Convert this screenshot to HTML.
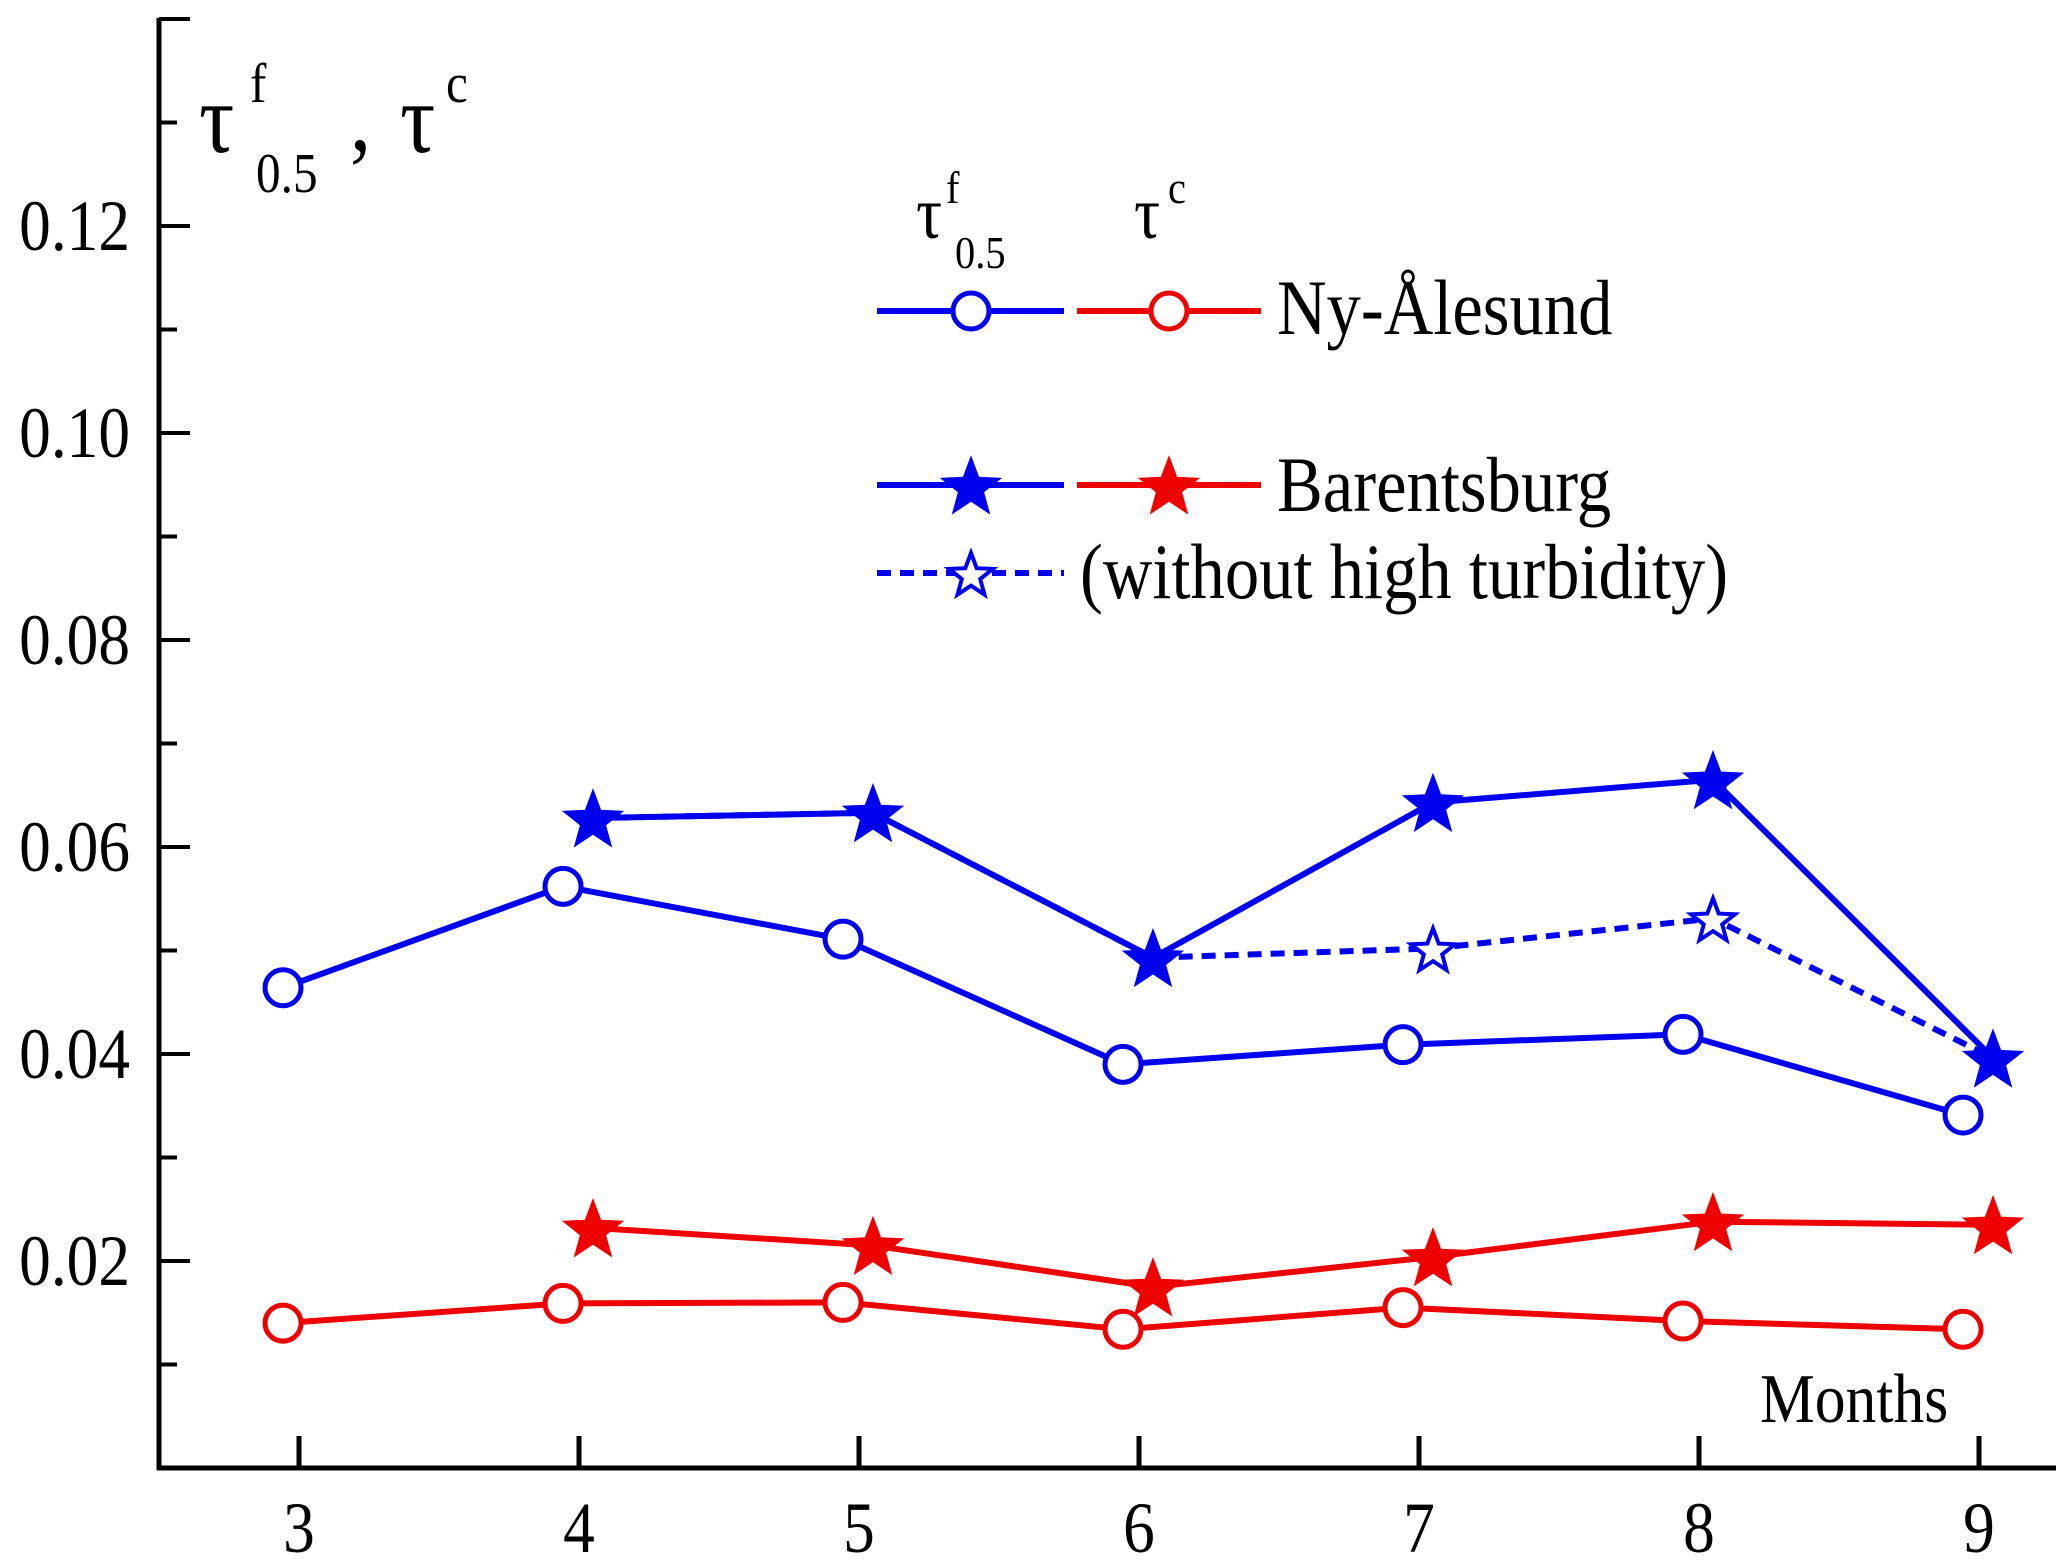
<!DOCTYPE html>
<html><head><meta charset="utf-8"><style>
html,body{margin:0;padding:0;background:#fff;}
svg{display:block;font-family:"Liberation Serif",serif;}
</style></head><body>
<svg id="chart" width="2067" height="1560" viewBox="0 0 2067 1560" xmlns="http://www.w3.org/2000/svg">
<rect width="2067" height="1560" fill="#fff"/>
<g id="axes"></g>
<g id="series"></g>
<g fill="#000">
<text transform="translate(199,152) scale(0.88,1)" font-size="100">τ</text>
<text transform="translate(250,102) scale(0.88,1)" font-size="56">f</text>
<text transform="translate(256,192) scale(0.88,1)" font-size="56">0.5</text>
<text transform="translate(350,150) scale(0.88,1)" font-size="96">,</text>
<text transform="translate(400,152) scale(0.88,1)" font-size="100">τ</text>
<text transform="translate(446,102) scale(0.88,1)" font-size="56">c</text>
</g>
<g>
<text transform="translate(916,238) scale(0.88,1)" font-size="74">τ</text>
<text transform="translate(946,203) scale(0.88,1)" font-size="46">f</text>
<text transform="translate(955,268) scale(0.88,1)" font-size="46">0.5</text>
<text transform="translate(1134,238) scale(0.88,1)" font-size="74">τ</text>
<text transform="translate(1168,203) scale(0.88,1)" font-size="46">c</text>
<g>
<line x1="877" y1="311" x2="1064" y2="311" stroke="#0000ee" stroke-width="6"/>
<circle cx="971" cy="311" r="18" fill="#fff" stroke="#0000ee" stroke-width="5"/>
<line x1="1077" y1="311" x2="1261" y2="311" stroke="#ee0000" stroke-width="6"/>
<circle cx="1169" cy="311" r="18" fill="#fff" stroke="#ee0000" stroke-width="5"/>
<text transform="translate(1277,334) scale(0.88,1)" font-size="78">Ny-Ålesund</text>
</g>
<g id="legend-stars">
<line x1="877" y1="485" x2="1064" y2="485" stroke="#0000ee" stroke-width="6"/>
<line x1="1077" y1="485" x2="1261" y2="485" stroke="#ee0000" stroke-width="6"/>
<text transform="translate(1277,511) scale(0.88,1)" font-size="78">Barentsburg</text>
<line x1="877" y1="573" x2="1064" y2="573" stroke="#0000ee" stroke-width="6" stroke-dasharray="14 9"/>
<text transform="translate(1080,598) scale(0.88,1)" font-size="78">(without high turbidity)</text>
</g>
</g>
<text transform="translate(1760,1422) scale(0.88,1)" font-size="70">Months</text>
</svg>
<script>
const months = [3,4,5,6,7,8,9];
const yTicks = [0.02,0.04,0.06,0.08,0.10,0.12];
const yTickLabels = ["0.02","0.04","0.06","0.08","0.10","0.12"];
const nyFine = [0.0464,0.0562,0.0511,0.0390,0.0409,0.0419,0.0341];
const nyCoarse = [0.0140,0.0159,0.0160,0.0134,0.0155,0.0142,0.0134];
const barMonths = [4,5,6,7,8,9];
const barFine = [0.0628,0.0633,0.0493,0.0643,0.0665,0.0396];
const barFineNoTurb = [0.0628,0.0633,0.0493,0.0502,0.0531,0.0396];
const barCoarse = [0.0232,0.0215,0.0175,0.0204,0.0238,0.0235];

const NS="http://www.w3.org/2000/svg";
const X0=159, Y0=1468;
function xs(m){return 299+(m-3)*280;}
function ys(v){return Y0-v/0.02*207;}
function mk(tag,attrs,parent){const e=document.createElementNS(NS,tag);for(const k in attrs)e.setAttribute(k,attrs[k]);parent.appendChild(e);return e;}
function starPts(cx,cy,R){const r=R*0.42;let p=[];for(let i=0;i<10;i++){const a=-Math.PI/2+i*Math.PI/5;const rr=i%2?r:R;p.push((cx+rr*Math.cos(a)).toFixed(1)+","+(cy+rr*Math.sin(a)).toFixed(1));}return p.join(" ");}

const axes=document.getElementById('axes');
let ax=mk('line',{x1:X0,y1:18,x2:X0,y2:Y0+2,stroke:'#000','stroke-width':5},axes);


ax=mk('line',{x1:X0-2,y1:Y0,x2:2056,y2:Y0,stroke:'#000','stroke-width':5},axes);


for(let i=1;i<=14;i++){
  const v=i*0.01, y=ys(v);
  const major=i%2===0;
  const t=mk('line',{x1:X0,y1:y,x2:X0+(major?31:18),y2:y,stroke:'#000','stroke-width':4},axes);
  
  
}
yTicks.forEach((v,i)=>{
  const t=mk('text',{transform:'translate(130,'+(ys(v)+24)+') scale(0.88,1)','font-size':72,'text-anchor':'end'},axes);
  t.textContent=yTickLabels[i];
  
  
});
months.forEach(m=>{
  const t=mk('line',{x1:xs(m),y1:Y0,x2:xs(m),y2:Y0-32,stroke:'#000','stroke-width':5},axes);
  
  
  const l=mk('text',{transform:'translate('+xs(m)+',1552) scale(0.88,1)','font-size':72,'text-anchor':'middle'},axes);
  l.textContent=String(m);
  
  
});

const sg=document.getElementById('series');
function line(ms,vals,off,color,dash,name){
  const pts=ms.map((m,i)=>xs(m+off).toFixed(1)+","+ys(vals[i]).toFixed(1)).join(" ");
  const a={points:pts,fill:'none',stroke:color,'stroke-width':6};
  if(dash)a['stroke-dasharray']='14 9';
  const p=mk('polyline',a,sg);
  
  
}
function circles(ms,vals,off,color,name){
  ms.forEach((m,i)=>{
    const c=mk('circle',{cx:xs(m+off),cy:ys(vals[i]),r:18,fill:'#fff',stroke:color,'stroke-width':5},sg);
    
    
  });
}
function stars(ms,vals,off,color,filled,name){
  ms.forEach((m,i)=>{
    const s=mk('polygon',{points:starPts(xs(m+off),ys(vals[i])+3,filled?30:23),fill:filled?color:'#fff',stroke:color,'stroke-width':filled?2:4},sg);
    
    
  });
}
const OC=-0.057, OS=0.05;
line(barMonths,barFineNoTurb,OS,'#0000ee',true,'barentsburg-fine-no-turbidity-line');
line(barMonths,barFine,OS,'#0000ee',false,'barentsburg-fine-line');
line(months,nyFine,OC,'#0000ee',false,'ny-alesund-fine-line');
line(barMonths,barCoarse,OS,'#ee0000',false,'barentsburg-coarse-line');
line(months,nyCoarse,OC,'#ee0000',false,'ny-alesund-coarse-line');
stars(barMonths.slice(3,5),barFineNoTurb.slice(3,5),OS,'#0000ee',false,'barentsburg-fine-no-turbidity-point');
stars(barMonths,barFine,OS,'#0000ee',true,'barentsburg-fine-point');
circles(months,nyFine,OC,'#0000ee','ny-alesund-fine-point');
stars(barMonths,barCoarse,OS,'#ee0000',true,'barentsburg-coarse-point');
circles(months,nyCoarse,OC,'#ee0000','ny-alesund-coarse-point');

const lg=document.getElementById('legend-stars');
let s=mk('polygon',{points:starPts(971,488,30),fill:'#0000ee',stroke:'#0000ee','stroke-width':2},lg);


s=mk('polygon',{points:starPts(1169,488,30),fill:'#ee0000',stroke:'#ee0000','stroke-width':2},lg);


s=mk('polygon',{points:starPts(971,576,23),fill:'#fff',stroke:'#0000ee','stroke-width':4},lg);


</script>
</body></html>
